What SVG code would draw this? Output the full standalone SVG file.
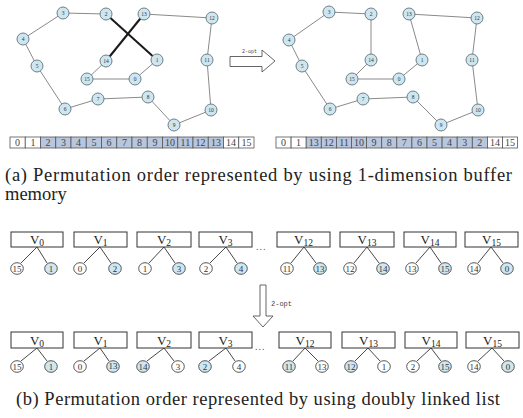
<svg xmlns="http://www.w3.org/2000/svg" width="523" height="418" viewBox="0 0 523 418">
<style>
.edge{stroke:#8a8a8a;stroke-width:1;fill:none}
.bold{stroke:#1a1a1a;stroke-width:2;fill:none}
.gn circle{fill:#cde6f0;stroke:#6f7f86;stroke-width:1}
.gn text{font-family:"Liberation Serif",serif;font-size:5.5px;fill:#333;text-anchor:middle}
.cell{stroke:#555;stroke-width:0.8}
.w{fill:#fff}
.b{fill:#b8c6de}
.ct{font-family:"Liberation Serif",serif;font-size:10px;fill:#444;text-anchor:middle}
.box{fill:#fff;stroke:#333;stroke-width:1}
.vl{font-family:"Liberation Serif",serif;font-size:13px;fill:#222;text-anchor:middle}
.sub{font-size:9.5px}
.lk{stroke:#333;stroke-width:0.9;fill:none}
.lw{fill:#fff;stroke:#444;stroke-width:0.9}
.lb{fill:#cfe7f0;stroke:#444;stroke-width:0.9}
.lt{font-family:"Liberation Serif",serif;font-size:9px;fill:#333;text-anchor:middle}
.cap{font-family:"Liberation Serif",serif;font-size:18.5px;fill:#222}
.arr{fill:#fff;stroke:#555;stroke-width:0.9}
.at{font-family:"Liberation Mono",monospace;fill:#444}
</style>

<g id="connectors">
  <!-- left graph -->
  <polyline class="edge" points="106,14 63,13 23,39 37,66 65,109 98,99 148,97 174,125 211,110 207,60 212,18 144,14"/>
  <polyline class="edge" points="106,61 87,79 135,79 157,60"/>
  <line class="bold" x1="144" y1="14" x2="106" y2="61"/>
  <line class="bold" x1="106" y1="14" x2="157" y2="60"/>
  <!-- right graph -->
  <polyline class="edge" points="371,60 371,14 329,12 289,40 302,66 330,109 363,99 413,97 441,125 478,110 472,60 477,18 409,14 422,60 399,79 352,79 371,60"/>
  <!-- linked list connectors row 1 -->
  <path class="lk" d="M21,263 L37,247 L47,263 M84,263 L100,247 L111,263 M149,263 L164,247 L175,263 M210,263 L226,247 L237,263 M291,263 L304,247 L316,263 M354,263 L367,247 L379,263 M416,263 L430,247 L441,263 M478,263 L491,247 L503,263"/>
  <!-- row 2 -->
  <path class="lk" d="M21,361 L37,348 L47,361 M84,361 L100,348 L109,361 M147,361 L164,348 L174,361 M209,361 L226,348 L235,361 M293,361 L305,348 L318,361 M355,361 L368,348 L380,361 M417,361 L431,348 L441,361 M478,361 L492,348 L504,361"/>
</g>

<!-- left graph nodes -->
<g class="gn">
  <g id="L3"><circle cx="63" cy="13" r="6"/><text x="63" y="15">3</text></g>
  <g id="L2"><circle cx="106" cy="14" r="6"/><text x="106" y="16">2</text></g>
  <g id="L13"><circle cx="144" cy="14" r="6"/><text x="144" y="16">13</text></g>
  <g id="L12"><circle cx="212" cy="18" r="6"/><text x="212" y="20">12</text></g>
  <g id="L4"><circle cx="23" cy="39" r="6"/><text x="23" y="41">4</text></g>
  <g id="L5"><circle cx="37" cy="66" r="6"/><text x="37" y="68">5</text></g>
  <g id="L14"><circle cx="106" cy="61" r="6"/><text x="106" y="63">14</text></g>
  <g id="L1"><circle cx="157" cy="60" r="6"/><text x="157" y="62">1</text></g>
  <g id="L11"><circle cx="207" cy="60" r="6"/><text x="207" y="62">11</text></g>
  <g id="L15"><circle cx="87" cy="79" r="6"/><text x="87" y="81">15</text></g>
  <g id="L0"><circle cx="135" cy="79" r="6"/><text x="135" y="81">0</text></g>
  <g id="L7"><circle cx="98" cy="99" r="6"/><text x="98" y="101">7</text></g>
  <g id="L8"><circle cx="148" cy="97" r="6"/><text x="148" y="99">8</text></g>
  <g id="L6"><circle cx="65" cy="109" r="6"/><text x="65" y="111">6</text></g>
  <g id="L10"><circle cx="211" cy="110" r="6"/><text x="211" y="112">10</text></g>
  <g id="L9"><circle cx="174" cy="125" r="6"/><text x="174" y="127">9</text></g>
</g>

<!-- right graph nodes -->
<g class="gn">
  <g id="R3"><circle cx="329" cy="12" r="6"/><text x="329" y="14">3</text></g>
  <g id="R2"><circle cx="371" cy="14" r="6"/><text x="371" y="16">2</text></g>
  <g id="R13"><circle cx="409" cy="14" r="6"/><text x="409" y="16">13</text></g>
  <g id="R12"><circle cx="477" cy="18" r="6"/><text x="477" y="20">12</text></g>
  <g id="R4"><circle cx="289" cy="40" r="6"/><text x="289" y="42">4</text></g>
  <g id="R5"><circle cx="302" cy="66" r="6"/><text x="302" y="68">5</text></g>
  <g id="R14"><circle cx="371" cy="60" r="6"/><text x="371" y="62">14</text></g>
  <g id="R1"><circle cx="422" cy="60" r="6"/><text x="422" y="62">1</text></g>
  <g id="R11"><circle cx="472" cy="60" r="6"/><text x="472" y="62">11</text></g>
  <g id="R15"><circle cx="352" cy="79" r="6"/><text x="352" y="81">15</text></g>
  <g id="R0"><circle cx="399" cy="79" r="6"/><text x="399" y="81">0</text></g>
  <g id="R7"><circle cx="363" cy="99" r="6"/><text x="363" y="101">7</text></g>
  <g id="R8"><circle cx="413" cy="97" r="6"/><text x="413" y="99">8</text></g>
  <g id="R6"><circle cx="330" cy="109" r="6"/><text x="330" y="111">6</text></g>
  <g id="R10"><circle cx="478" cy="110" r="6"/><text x="478" y="112">10</text></g>
  <g id="R9"><circle cx="441" cy="125" r="6"/><text x="441" y="127">9</text></g>
</g>

<!-- top arrow -->
<g id="arrowTop">
  <path class="arr" d="M230,56.5 L262,56.5 L262,50 L275,61 L262,72 L262,66.5 L230,66.5 Z"/>
  <text class="at" x="242" y="53" font-size="5">2-opt</text>
</g>

<!-- left buffer -->
<g id="bufferLeft">
  <rect class="cell w" x="10" y="137" width="15.25" height="11"/>
  <rect class="cell w" x="25.25" y="137" width="15.25" height="11"/>
  <rect class="cell b" x="40.5" y="137" width="15.25" height="11"/>
  <rect class="cell b" x="55.75" y="137" width="15.25" height="11"/>
  <rect class="cell b" x="71" y="137" width="15.25" height="11"/>
  <rect class="cell b" x="86.25" y="137" width="15.25" height="11"/>
  <rect class="cell b" x="101.5" y="137" width="15.25" height="11"/>
  <rect class="cell b" x="116.75" y="137" width="15.25" height="11"/>
  <rect class="cell b" x="132" y="137" width="15.25" height="11"/>
  <rect class="cell b" x="147.25" y="137" width="15.25" height="11"/>
  <rect class="cell b" x="162.5" y="137" width="15.25" height="11"/>
  <rect class="cell b" x="177.75" y="137" width="15.25" height="11"/>
  <rect class="cell b" x="193" y="137" width="15.25" height="11"/>
  <rect class="cell b" x="208.25" y="137" width="15.25" height="11"/>
  <rect class="cell w" x="223.5" y="137" width="15.25" height="11"/>
  <rect class="cell w" x="238.75" y="137" width="15.25" height="11"/>
  <text class="ct" y="146"><tspan x="17.6">0</tspan><tspan x="32.9">1</tspan><tspan x="48.1">2</tspan><tspan x="63.4">3</tspan><tspan x="78.6">4</tspan><tspan x="93.9">5</tspan><tspan x="109.1">6</tspan><tspan x="124.4">7</tspan><tspan x="139.6">8</tspan><tspan x="154.9">9</tspan><tspan x="170.1">10</tspan><tspan x="185.4">11</tspan><tspan x="200.6">12</tspan><tspan x="215.9">13</tspan><tspan x="231.1">14</tspan><tspan x="246.4">15</tspan></text>
</g>

<!-- right buffer -->
<g id="bufferRight">
  <rect class="cell w" x="276" y="137" width="15.1" height="11"/>
  <rect class="cell w" x="291.1" y="137" width="15.1" height="11"/>
  <rect class="cell b" x="306.2" y="137" width="15.1" height="11"/>
  <rect class="cell b" x="321.3" y="137" width="15.1" height="11"/>
  <rect class="cell b" x="336.4" y="137" width="15.1" height="11"/>
  <rect class="cell b" x="351.5" y="137" width="15.1" height="11"/>
  <rect class="cell b" x="366.6" y="137" width="15.1" height="11"/>
  <rect class="cell b" x="381.7" y="137" width="15.1" height="11"/>
  <rect class="cell b" x="396.8" y="137" width="15.1" height="11"/>
  <rect class="cell b" x="411.9" y="137" width="15.1" height="11"/>
  <rect class="cell b" x="427" y="137" width="15.1" height="11"/>
  <rect class="cell b" x="442.1" y="137" width="15.1" height="11"/>
  <rect class="cell b" x="457.2" y="137" width="15.1" height="11"/>
  <rect class="cell b" x="472.3" y="137" width="15.1" height="11"/>
  <rect class="cell w" x="487.4" y="137" width="15.1" height="11"/>
  <rect class="cell w" x="502.5" y="137" width="15.1" height="11"/>
  <text class="ct" y="146"><tspan x="283.5">0</tspan><tspan x="298.6">1</tspan><tspan x="313.7">13</tspan><tspan x="328.8">12</tspan><tspan x="344">11</tspan><tspan x="359">10</tspan><tspan x="374.1">9</tspan><tspan x="389.2">8</tspan><tspan x="404.3">7</tspan><tspan x="419.4">6</tspan><tspan x="434.5">5</tspan><tspan x="449.6">4</tspan><tspan x="464.7">3</tspan><tspan x="479.8">2</tspan><tspan x="494.9">14</tspan><tspan x="510">15</tspan></text>
</g>

<!-- caption a -->
<text class="cap" x="5" y="181" textLength="507" lengthAdjust="spacing">(a) Permutation order represented by using 1-dimension buffer</text>
<text class="cap" x="5" y="200">memory</text>

<!-- linked list row 1 -->
<g id="r1V0"><rect class="box" x="11" y="232" width="52" height="15"/><text class="vl" x="37" y="244">V<tspan class="sub" dy="2">0</tspan></text>
  <ellipse class="lw" cx="17" cy="268.5" rx="6.3" ry="5.8"/><text class="lt" x="17" y="271.5">15</text>
  <ellipse class="lb" cx="51" cy="268.5" rx="6.3" ry="5.8"/><text class="lt" x="51" y="271.5">1</text></g>
<g id="r1V1"><rect class="box" x="74" y="232" width="53" height="15"/><text class="vl" x="100.5" y="244">V<tspan class="sub" dy="2">1</tspan></text>
  <ellipse class="lw" cx="80" cy="268.5" rx="6.3" ry="5.8"/><text class="lt" x="80" y="271.5">0</text>
  <ellipse class="lb" cx="115" cy="268.5" rx="6.3" ry="5.8"/><text class="lt" x="115" y="271.5">2</text></g>
<g id="r1V2"><rect class="box" x="137" y="232" width="54" height="15"/><text class="vl" x="164" y="244">V<tspan class="sub" dy="2">2</tspan></text>
  <ellipse class="lw" cx="145" cy="268.5" rx="6.3" ry="5.8"/><text class="lt" x="145" y="271.5">1</text>
  <ellipse class="lb" cx="179" cy="268.5" rx="6.3" ry="5.8"/><text class="lt" x="179" y="271.5">3</text></g>
<g id="r1V3"><rect class="box" x="199" y="232" width="53" height="15"/><text class="vl" x="225.5" y="244">V<tspan class="sub" dy="2">3</tspan></text>
  <ellipse class="lw" cx="206" cy="268.5" rx="6.3" ry="5.8"/><text class="lt" x="206" y="271.5">2</text>
  <ellipse class="lb" cx="241" cy="268.5" rx="6.3" ry="5.8"/><text class="lt" x="241" y="271.5">4</text></g>
<text x="256" y="250" font-family="Liberation Serif, serif" font-size="10" fill="#555" letter-spacing="1">...</text>
<g id="r1V12"><rect class="box" x="277" y="232" width="53" height="15"/><text class="vl" x="303.5" y="244">V<tspan class="sub" dy="2">12</tspan></text>
  <ellipse class="lw" cx="287" cy="268.5" rx="6.3" ry="5.8"/><text class="lt" x="287" y="271.5">11</text>
  <ellipse class="lb" cx="320" cy="268.5" rx="6.3" ry="5.8"/><text class="lt" x="320" y="271.5">13</text></g>
<g id="r1V13"><rect class="box" x="340" y="232" width="54" height="15"/><text class="vl" x="367" y="244">V<tspan class="sub" dy="2">13</tspan></text>
  <ellipse class="lw" cx="350" cy="268.5" rx="6.3" ry="5.8"/><text class="lt" x="350" y="271.5">12</text>
  <ellipse class="lb" cx="383" cy="268.5" rx="6.3" ry="5.8"/><text class="lt" x="383" y="271.5">14</text></g>
<g id="r1V14"><rect class="box" x="404" y="232" width="52" height="15"/><text class="vl" x="430" y="244">V<tspan class="sub" dy="2">14</tspan></text>
  <ellipse class="lw" cx="412" cy="268.5" rx="6.3" ry="5.8"/><text class="lt" x="412" y="271.5">13</text>
  <ellipse class="lb" cx="445" cy="268.5" rx="6.3" ry="5.8"/><text class="lt" x="445" y="271.5">15</text></g>
<g id="r1V15"><rect class="box" x="465" y="232" width="53" height="15"/><text class="vl" x="491.5" y="244">V<tspan class="sub" dy="2">15</tspan></text>
  <ellipse class="lw" cx="474" cy="268.5" rx="6.3" ry="5.8"/><text class="lt" x="474" y="271.5">14</text>
  <ellipse class="lb" cx="507" cy="268.5" rx="6.3" ry="5.8"/><text class="lt" x="507" y="271.5">0</text></g>

<!-- down arrow -->
<g id="arrowDown">
  <path class="arr" d="M260,285 L266,285 L266,316 L273,316 L263,327 L253,316 L260,316 Z"/>
  <text class="at" x="271" y="306" font-size="7">2-opt</text>
</g>

<!-- linked list row 2 -->
<g id="r2V0"><rect class="box" x="11" y="332" width="52" height="16"/><text class="vl" x="37" y="344.5">V<tspan class="sub" dy="2">0</tspan></text>
  <ellipse class="lw" cx="17" cy="366.5" rx="6.3" ry="5.8"/><text class="lt" x="17" y="369.5">15</text>
  <ellipse class="lb" cx="51" cy="366.5" rx="6.3" ry="5.8"/><text class="lt" x="51" y="369.5">1</text></g>
<g id="r2V1"><rect class="box" x="74" y="332" width="53" height="16"/><text class="vl" x="100.5" y="344.5">V<tspan class="sub" dy="2">1</tspan></text>
  <ellipse class="lw" cx="80" cy="366.5" rx="6.3" ry="5.8"/><text class="lt" x="80" y="369.5">0</text>
  <ellipse class="lb" cx="113" cy="366.5" rx="6.3" ry="5.8"/><text class="lt" x="113" y="368.5" font-size="6">13</text></g>
<g id="r2V2"><rect class="box" x="137" y="332" width="54" height="16"/><text class="vl" x="164" y="344.5">V<tspan class="sub" dy="2">2</tspan></text>
  <ellipse class="lb" cx="143" cy="366.5" rx="6.3" ry="5.8"/><text class="lt" x="143" y="369.5">14</text>
  <ellipse class="lw" cx="178" cy="366.5" rx="6.3" ry="5.8"/><text class="lt" x="178" y="369.5">3</text></g>
<g id="r2V3"><rect class="box" x="199" y="332" width="53" height="16"/><text class="vl" x="225.5" y="344.5">V<tspan class="sub" dy="2">3</tspan></text>
  <ellipse class="lb" cx="205" cy="366.5" rx="6.3" ry="5.8"/><text class="lt" x="205" y="369.5">2</text>
  <ellipse class="lw" cx="239" cy="366.5" rx="6.3" ry="5.8"/><text class="lt" x="239" y="369.5">4</text></g>
<text x="255" y="350" font-family="Liberation Serif, serif" font-size="10" fill="#555" letter-spacing="1">...</text>
<g id="r2V12"><rect class="box" x="279" y="332" width="52" height="16"/><text class="vl" x="305" y="344.5">V<tspan class="sub" dy="2">12</tspan></text>
  <ellipse class="lb" cx="289" cy="366.5" rx="6.3" ry="5.8"/><text class="lt" x="289" y="369.5">11</text>
  <ellipse class="lw" cx="322" cy="366.5" rx="6.3" ry="5.8"/><text class="lt" x="322" y="369.5">13</text></g>
<g id="r2V13"><rect class="box" x="342" y="332" width="53" height="16"/><text class="vl" x="368.5" y="344.5">V<tspan class="sub" dy="2">13</tspan></text>
  <ellipse class="lb" cx="351" cy="366.5" rx="6.3" ry="5.8"/><text class="lt" x="351" y="369.5">12</text>
  <ellipse class="lw" cx="384" cy="366.5" rx="6.3" ry="5.8"/><text class="lt" x="384" y="369.5">1</text></g>
<g id="r2V14"><rect class="box" x="405" y="332" width="52" height="16"/><text class="vl" x="431" y="344.5">V<tspan class="sub" dy="2">14</tspan></text>
  <ellipse class="lw" cx="413" cy="366.5" rx="6.3" ry="5.8"/><text class="lt" x="413" y="369.5">2</text>
  <ellipse class="lb" cx="445" cy="366.5" rx="6.3" ry="5.8"/><text class="lt" x="445" y="369.5">15</text></g>
<g id="r2V15"><rect class="box" x="466" y="332" width="53" height="16"/><text class="vl" x="492.5" y="344.5">V<tspan class="sub" dy="2">15</tspan></text>
  <ellipse class="lw" cx="474" cy="366.5" rx="6.3" ry="5.8"/><text class="lt" x="474" y="369.5">14</text>
  <ellipse class="lb" cx="508" cy="366.5" rx="6.3" ry="5.8"/><text class="lt" x="508" y="369.5">0</text></g>

<!-- caption b -->
<text class="cap" x="16" y="405" font-size="20" textLength="484" lengthAdjust="spacing">(b) Permutation order represented by using doubly linked list</text>
</svg>
